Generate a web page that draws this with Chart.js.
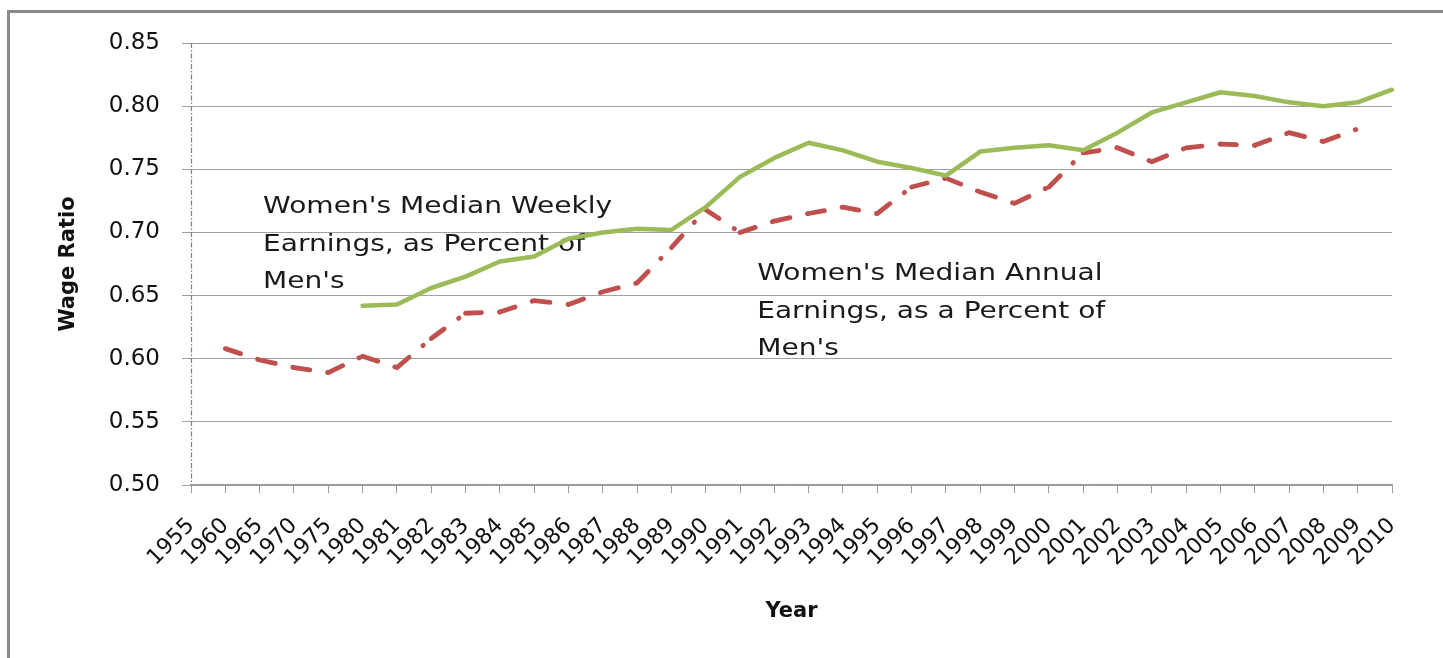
<!DOCTYPE html>
<html>
<head>
<meta charset="utf-8">
<script src="https://cdn.jsdelivr.net/npm/chart.js@4/dist/chart.umd.min.js"></script>
<style>
  html, body { margin: 0; padding: 0; background: #fff; overflow: hidden; }
  #wrap { position: relative; width: 1443px; height: 658px; }
  #frame { position: absolute; left: 7px; top: 10px; width: 1450px; height: 700px; border-left: 3px solid #8a8a8a; border-top: 3px solid #8a8a8a; box-sizing: border-box; pointer-events: none; }
  canvas { position: absolute; left: 0; top: 0; }
</style>
</head>
<body>
<div id="wrap">
  <canvas id="c" width="1443" height="658"></canvas>
  <div id="frame"></div>
</div>
<script>
const years = ['1955','1960','1965','1970','1975','1980','1981','1982','1983','1984','1985','1986','1987','1988','1989','1990','1991','1992','1993','1994','1995','1996','1997','1998','1999','2000','2001','2002','2003','2004','2005','2006','2007','2008','2009','2010'];
const weeklyRatio = [null,null,null,null,null,0.642,0.643,0.656,0.665,0.677,0.681,0.695,0.700,0.703,0.702,0.720,0.744,0.759,0.771,0.765,0.756,0.751,0.745,0.764,0.767,0.769,0.765,0.779,0.795,0.803,0.811,0.808,0.803,0.800,0.803,0.813];
const annualRatio = [null,0.608,0.599,0.593,0.589,0.602,0.593,0.616,0.636,0.637,0.646,0.643,0.653,0.660,0.688,0.718,0.700,0.709,0.715,0.720,0.715,0.736,0.743,0.732,0.723,0.736,0.763,0.767,0.756,0.767,0.770,0.769,0.779,0.772,0.782,null];
const yTicks = [0.50,0.55,0.60,0.65,0.70,0.75,0.80,0.85];
const weeklyLabel = ["Women's Median Weekly", "Earnings, as Percent of", "Men's"];
const annualLabel = ["Women's Median Annual", "Earnings, as a Percent of", "Men's"];
const weeklyLabelAt = {x: 2.1, y: 0.72};
const annualLabelAt = {x: 16.5, y: 0.667};

const FONT = "'DejaVu Sans', 'Open Sans', sans-serif";

const axisLinePlugin = {
  id: 'yAxisLine',
  afterDraw(chart) {
    const ctx = chart.ctx, a = chart.chartArea;
    const x = Math.round(a.left) + 0.5;
    ctx.save();
    ctx.strokeStyle = '#7f7f7f';
    ctx.lineWidth = 1.2;
    ctx.setLineDash([5, 2, 1.5, 2]);
    ctx.beginPath();
    ctx.moveTo(x, a.top);
    ctx.lineTo(x, a.bottom);
    ctx.stroke();
    ctx.restore();
  }
};

const annotPlugin = {
  id: 'annot',
  beforeDatasetsDraw(chart) {
    const ctx = chart.ctx;
    const xs = chart.scales.x, ys = chart.scales.y;
    const drawBlock = (lines, at) => {
      const px = xs.getPixelForValue(at.x);
      const py = ys.getPixelForValue(at.y);
      ctx.save();
      ctx.font = "23px " + FONT;
      ctx.fillStyle = '#1a1a1a';
      ctx.textAlign = 'left';
      ctx.textBaseline = 'middle';
      lines.forEach((t, i) => {
        ctx.save();
        ctx.translate(px, py + i * 37.5);
        ctx.scale(1.22, 1);
        ctx.fillText(t, 0, 0);
        ctx.restore();
      });
      ctx.restore();
    };
    drawBlock(weeklyLabel, weeklyLabelAt);
    drawBlock(annualLabel, annualLabelAt);
  }
};

new Chart(document.getElementById('c'), {
  type: 'line',
  data: {
    labels: years,
    datasets: [
      {
        label: "Women's Median Weekly Earnings, as Percent of Men's",
        data: weeklyRatio,
        borderColor: '#9bbb59',
        borderWidth: 4.5,
        pointRadius: 0,
        tension: 0,
        borderJoinStyle: 'round',
        borderCapStyle: 'round',
        spanGaps: false
      },
      {
        label: "Women's Median Annual Earnings, as a Percent of Men's",
        data: annualRatio,
        borderColor: '#c0504d',
        borderWidth: 4.8,
        pointRadius: 0,
        tension: 0,
        borderCapStyle: 'round',
        borderDash: [16, 18, 0.5, 18],
        segment: {
          borderDashOffset: ctx => (ctx.p0DataIndex % 2) * 0.0001
        },
        spanGaps: false
      }
    ]
  },
  options: {
    responsive: false,
    animation: false,
    events: [],
    layout: { padding: { left: 56, top: 43, right: 51, bottom: 34 } },
    plugins: { legend: { display: false }, tooltip: { enabled: false } },
    scales: {
      x: {
        type: 'category',
        offset: false,
        afterFit(scale) { scale.height = 139; },
        grid: { drawOnChartArea: false, drawTicks: true, tickLength: 8, color: '#9a9a9a', lineWidth: 1 },
        border: { display: true, color: '#9a9a9a', width: 1.5 },
        ticks: {
          autoSkip: false, maxRotation: 45, minRotation: 45, padding: 20,
          color: '#111', font: { family: FONT, size: 22 }
        },
        title: { display: true, text: 'Year', color: '#111', padding: { top: 0, bottom: 0 }, font: { family: FONT, size: 21, weight: 'bold' } }
      },
      y: {
        type: 'linear',
        min: yTicks[0],
        max: yTicks[yTicks.length - 1],
        afterFit(scale) { scale.width = 135; },
        afterBuildTicks(scale) { scale.ticks = yTicks.map(v => ({ value: v })); },
        grid: { color: '#a0a0a0', lineWidth: 1, tickLength: 9, drawTicks: true },
        border: { display: false },
        ticks: {
          padding: 22, color: '#111', font: { family: FONT, size: 23 },
          callback: v => Number(v).toFixed(2)
        },
        title: { display: true, text: 'Wage Ratio', color: '#111', padding: { top: 0, bottom: 0 }, font: { family: FONT, size: 21, weight: 'bold' } }
      }
    }
  },
  plugins: [annotPlugin, axisLinePlugin]
});
</script>
</body>
</html>
